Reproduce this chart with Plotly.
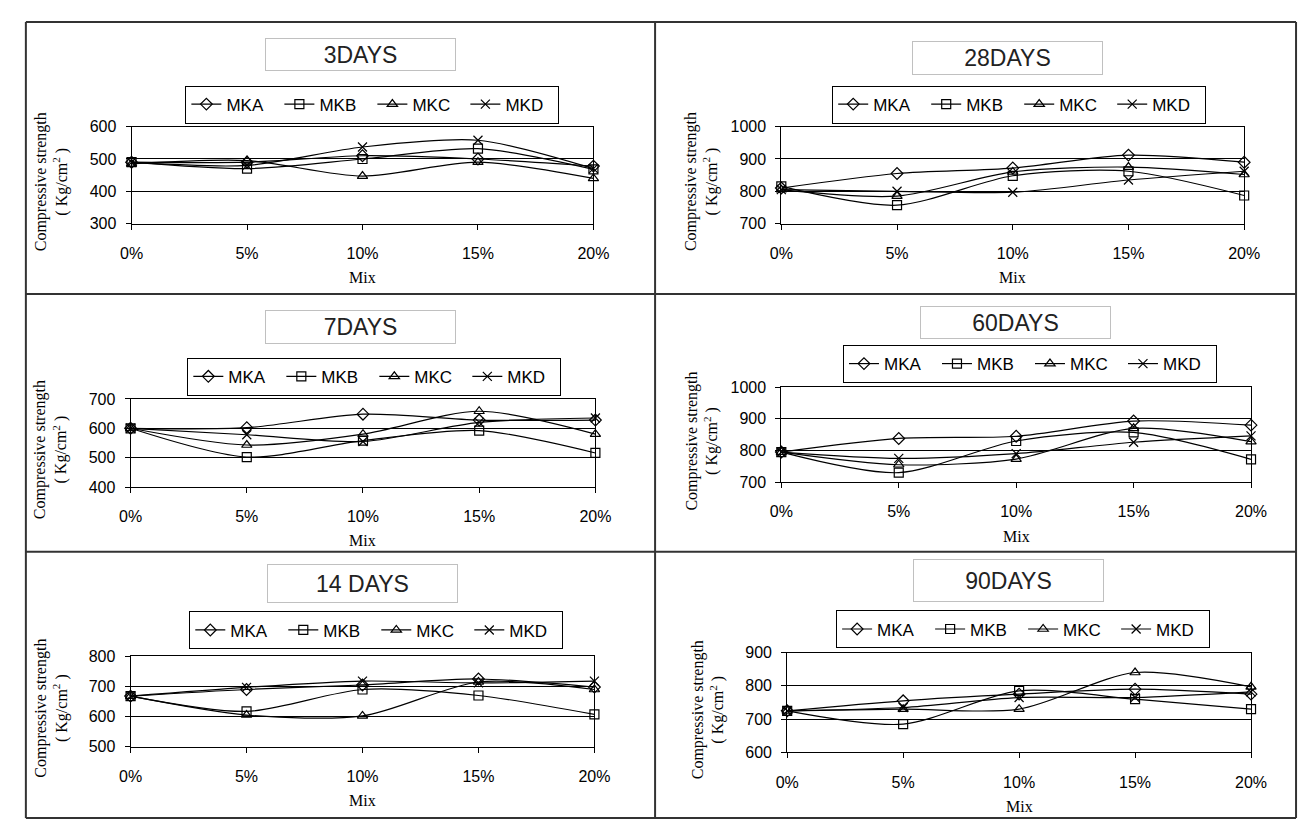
import plotly.graph_objects as go

W, H = 1306, 821

mix = ["0%", "5%", "10%", "15%", "20%"]
series_names = ["MKA", "MKB", "MKC", "MKD"]

titles = ["3DAYS", "28DAYS", "7DAYS", "60DAYS", "14 DAYS", "90DAYS"]

d3_mka = [490, 490, 510, 500, 478]
d3_mkb = [490, 470, 500, 532, 468]
d3_mkc = [485, 495, 447, 490, 440]
d3_mkd = [490, 480, 537, 558, 470]

d28_mka = [810, 855, 872, 912, 890]
d28_mkb = [815, 757, 848, 862, 787]
d28_mkc = [805, 785, 860, 875, 852]
d28_mkd = [805, 800, 797, 835, 862]

d7_mka = [600, 602, 648, 628, 628]
d7_mkb = [600, 502, 558, 592, 516]
d7_mkc = [600, 543, 580, 658, 580]
d7_mkd = [600, 578, 555, 620, 635]

d60_mka = [795, 838, 845, 893, 880]
d60_mkb = [795, 730, 830, 857, 772]
d60_mkc = [795, 755, 773, 870, 828]
d60_mkd = [795, 775, 790, 826, 846]

d14_mka = [668, 690, 705, 725, 698]
d14_mkb = [668, 617, 690, 670, 607]
d14_mkc = [668, 605, 602, 715, 690]
d14_mkd = [668, 697, 718, 712, 718]

d90_mka = [725, 755, 775, 790, 775]
d90_mkb = [725, 685, 785, 760, 730]
d90_mkc = [725, 730, 730, 840, 797]
d90_mkd = [725, 735, 765, 765, 782]

panel_data = [
    [d3_mka, d3_mkb, d3_mkc, d3_mkd],
    [d28_mka, d28_mkb, d28_mkc, d28_mkd],
    [d7_mka, d7_mkb, d7_mkc, d7_mkd],
    [d60_mka, d60_mkb, d60_mkc, d60_mkd],
    [d14_mka, d14_mkb, d14_mkc, d14_mkd],
    [d90_mka, d90_mkb, d90_mkc, d90_mkd],
]
y_ranges = [(300, 600), (700, 1000), (400, 700), (700, 1000), (500, 800), (600, 900)]

# layout geometry (pixels)
plot_boxes = [  # x0, x1, y0(top), y1(bottom)
    (114, 586, 113, 212),
    (778, 1251, 113, 212),
    (113, 588, 391, 481),
    (778, 1258, 379, 476),
    (113, 587, 654, 746),
    (784, 1258, 650, 752),
]
title_boxes = [  # x0, x1, y0, y1
    (252, 443, 23, 56),
    (914, 1105, 26, 60),
    (252, 443, 301, 335),
    (922, 1113, 296, 329),
    (254, 445, 560, 599),
    (915, 1106, 555, 598),
]
legend_boxes = [  # x0, y0
    (169, 71),
    (830, 71),
    (171, 349),
    (841, 336),
    (173, 608),
    (834, 607),
]

symbols = ["diamond-open", "square-open", "triangle-up-open", "x-thin-open"]

fig = go.Figure()
layout = dict(
    width=W, height=H,
    margin=dict(l=0, r=0, t=0, b=0),
    paper_bgcolor="white", plot_bgcolor="white",
    showlegend=True,
    annotations=[], shapes=[],
)

tick_font = dict(family="Liberation Sans, Arial", size=16, color="black")
serif = "Liberation Serif, Times New Roman"

for i in range(6):
    ax = "" if i == 0 else str(i + 1)
    lg = "legend" if i == 0 else "legend" + str(i + 1)
    x0, x1, y0, y1 = plot_boxes[i]
    for j, name in enumerate(series_names):
        fig.add_trace(go.Scatter(
            x=mix, y=panel_data[i][j], name=name,
            mode="lines+markers",
            line=dict(color="black", width=1.2, shape="spline", smoothing=0.8),
            marker=dict(symbol=symbols[j], size=9, color="black", line=dict(width=1.2, color="black")),
            xaxis="x" + ax, yaxis="y" + ax, legend=lg, cliponaxis=False,
        ))
    layout["xaxis" + ax] = dict(
        domain=[x0 / W, x1 / W], anchor="y" + ax, type="category",
        range=[0, 4], showgrid=False, showline=True, linecolor="black", linewidth=1,
        mirror=True, ticks="outside", ticklen=5, tickcolor="black",
        tickfont=tick_font, ticklabelstandoff=10, zeroline=False,
    )
    lo, hi = y_ranges[i]
    layout["yaxis" + ax] = dict(
        domain=[1 - y1 / H, 1 - y0 / H], anchor="x" + ax,
        range=[lo, hi], dtick=100, tick0=lo, showgrid=True, gridcolor="black", gridwidth=1,
        showline=True, linecolor="black", linewidth=1, mirror=True,
        ticks="outside", ticklen=5, tickcolor="black", tickfont=tick_font,
        ticklabelstandoff=6, zeroline=False,
    )
    lx, ly = legend_boxes[i]
    layout[lg] = dict(
        x=lx / W, y=1 - ly / H, xanchor="left", yanchor="top",
        orientation="h", bordercolor="black", borderwidth=1, bgcolor="white",
        font=dict(family="Liberation Sans, Arial", size=17, color="black"),
        itemwidth=30, tracegroupgap=0, entrywidth=48,
    )
    tx0, tx1, ty0, ty1 = title_boxes[i]
    layout["annotations"].append(dict(
        text=titles[i], xref="paper", yref="paper",
        x=(tx0 + tx1) / 2 / W, y=1 - (ty0 + ty1) / 2 / H,
        xanchor="center", yanchor="middle", showarrow=False,
        width=tx1 - tx0 - 4, height=ty1 - ty0 - 4,
        bordercolor="#c0c0c0", borderwidth=1, bgcolor="white",
        font=dict(family="Liberation Sans, Arial", size=23, color="#222"),
    ))
    # Mix label
    layout["annotations"].append(dict(
        text="Mix", xref="paper", yref="paper",
        x=(x0 + x1) / 2 / W, y=1 - (y1 + 55) / H,
        xanchor="center", yanchor="middle", showarrow=False,
        font=dict(family=serif, size=16, color="black"),
    ))
    # y title
    layout["annotations"].append(dict(
        text="Compressive strength<br>( Kg/cm<sup>2</sup> )", xref="paper", yref="paper",
        x=(x0 - 81) / W, y=1 - ((y0 + y1) / 2 + 7) / H,
        xanchor="center", yanchor="middle", showarrow=False, textangle=-90,
        font=dict(family=serif, size=16, color="black"),
    ))

# panel frame lines
for px in [6, 649, 1304]:
    layout["shapes"].append(dict(type="line", xref="paper", yref="paper",
                                 x0=px / W, x1=px / W, y0=1 - 6 / H, y1=1 - 819 / H,
                                 line=dict(color="#333", width=2)))
for py in [6, 284, 547, 819]:
    layout["shapes"].append(dict(type="line", xref="paper", yref="paper",
                                 x0=6 / W, x1=1304 / W, y0=1 - py / H, y1=1 - py / H,
                                 line=dict(color="#333", width=2)))

fig.update_layout(**layout)
fig.write_html("out.html")
